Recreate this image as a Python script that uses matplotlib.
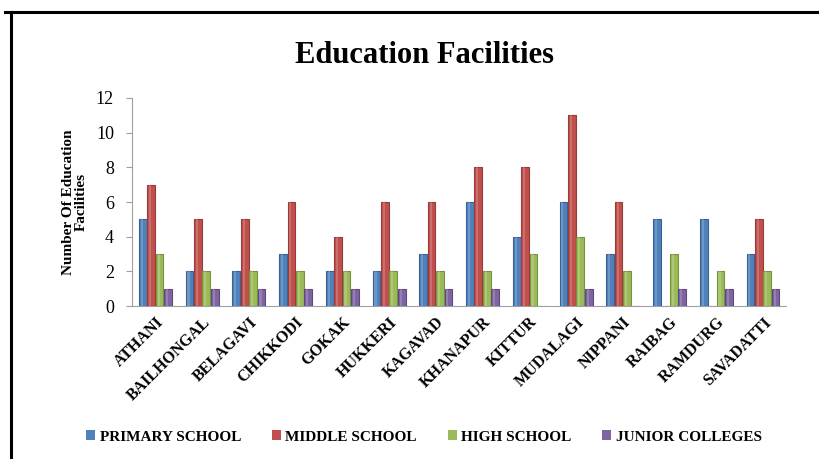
import matplotlib.pyplot as plt
import numpy as np
from matplotlib.lines import Line2D
from matplotlib.patches import Patch

# Taluk names and facility counts
talukas = ['ATHANI', 'BAILHONGAL', 'BELAGAVI', 'CHIKKODI', 'GOKAK', 'HUKKERI',
           'KAGAVAD', 'KHANAPUR', 'KITTUR', 'MUDALAGI', 'NIPPANI', 'RAIBAG',
           'RAMDURG', 'SAVADATTI']
primary = [5, 2, 2, 3, 2, 2, 3, 6, 4, 6, 3, 5, 5, 3]
middle = [7, 5, 5, 6, 4, 6, 6, 8, 8, 11, 6, 0, 0, 5]
high = [3, 2, 2, 2, 2, 2, 2, 2, 3, 4, 2, 3, 2, 2]
junior = [1, 1, 1, 1, 1, 1, 1, 1, 0, 1, 0, 1, 1, 1]

series = ['PRIMARY SCHOOL', 'MIDDLE SCHOOL', 'HIGH SCHOOL', 'JUNIOR COLLEGES']
colors = ['#4F81BD', '#C0504D', '#9BBB59', '#8064A2']
edges = ['#3A6291', '#983B39', '#76923F', '#5F4B7A']

plt.rcParams['font.family'] = ['Liberation Serif', 'DejaVu Serif']

fig = plt.figure(figsize=(8.2, 4.59), dpi=100)
ax = fig.add_axes([0.161, 0.3333, 0.798, 0.4532])

x = np.arange(len(talukas))
w = 0.18
for k, (vals, c, ec) in enumerate(zip([primary, middle, high, junior], colors, edges)):
    pos = x + (k - 1.5) * w
    ax.bar(pos, vals, width=w * 0.92, color=c, edgecolor=ec, linewidth=0.8, zorder=3)
    # lighter strip to hint at the cylinder shading
    ax.bar(pos - w * 0.12, vals, width=w * 0.25, color='white', alpha=0.18,
           linewidth=0, zorder=4)

ax.set_xlim(-0.5, len(talukas) - 0.5)
ax.set_ylim(0, 12)
ax.set_yticks(range(0, 13, 2))
ax.tick_params(axis='y', labelsize=13, length=4, color='#A0A0A0', pad=9)
ax.set_xticks(x)
ax.set_xticklabels(talukas, rotation=45, ha='right', rotation_mode='anchor',
                   fontsize=11.5, fontweight='bold')
ax.tick_params(axis='x', length=0, pad=6)

for s in ['top', 'right']:
    ax.spines[s].set_visible(False)
ax.spines['left'].set_color('#A0A0A0')
ax.spines['bottom'].set_color('#A0A0A0')

ax.set_ylabel('Number Of Education\nFacilities', fontsize=11, fontweight='bold',
              labelpad=6, linespacing=0.95)

fig.text(0.518, 0.88, 'Education Facilities', ha='center', va='center',
         fontsize=22, fontweight='bold')

handles = [Patch(facecolor=c, edgecolor='none') for c in colors]
leg = fig.legend(handles, series, loc='center', bbox_to_anchor=(0.517, 0.048),
                 ncol=4, frameon=False, handlelength=0.6, handleheight=0.6,
                 handletextpad=0.3, columnspacing=2.0,
                 prop={'size': 11, 'weight': 'bold'})

# outer frame lines (top and left) like the original screenshot
fig.add_artist(Line2D([0.006, 1.0], [0.974, 0.974], transform=fig.transFigure,
                      color='black', lw=2.2))
fig.add_artist(Line2D([0.013, 0.013], [0.0, 0.974], transform=fig.transFigure,
                      color='black', lw=2.2))

fig.savefig('out.png', dpi=100)
